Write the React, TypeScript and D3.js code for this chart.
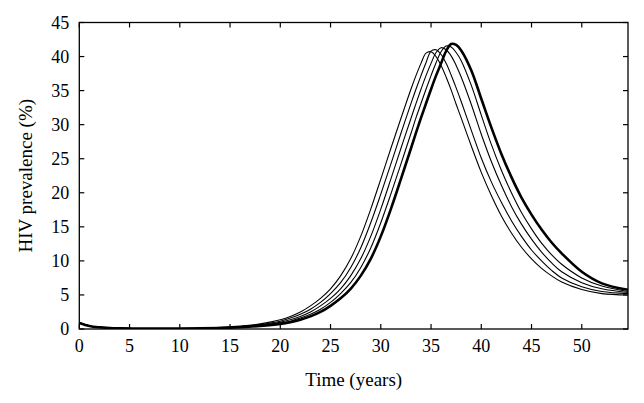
import React from 'react';
import { scaleLinear, line, curveCatmullRom } from 'd3';

// time grid (years)
const years = [0, 1, 2, 3, 4, 6, 8, 10, 12, 14, 16, 18, 20, 21, 22, 23, 24, 25, 26, 27, 28, 29, 30, 31, 32, 33, 33.5, 34, 34.5, 35, 35.5, 36, 36.5, 37, 37.5, 38, 39, 40, 41, 42, 43, 44, 45, 46, 47, 48, 50, 52, 54.6];

// HIV prevalence (%) for the five runs
const run1 = [0.9, 0.45, 0.25, 0.15, 0.1, 0.06, 0.06, 0.08, 0.14, 0.24, 0.42, 0.75, 1.35, 1.85, 2.5, 3.4, 4.5, 5.9, 7.8, 10.3, 13.6, 17.6, 22.0, 26.5, 30.9, 35.2, 37.2, 39.0, 40.5, 40.7, 40.0, 38.7, 37.0, 35.1, 33.0, 31.0, 26.9, 23.0, 19.6, 16.6, 14.1, 12.0, 10.3, 8.9, 7.8, 6.9, 5.8, 5.2, 5.0];
const run2 = [0.9, 0.45, 0.25, 0.15, 0.1, 0.06, 0.06, 0.07, 0.12, 0.21, 0.37, 0.66, 1.15, 1.6, 2.15, 2.9, 3.9, 5.2, 6.8, 9.0, 11.9, 15.6, 19.8, 24.2, 28.7, 33.1, 35.2, 37.2, 39.1, 40.8, 41.0, 40.3, 39.0, 37.3, 35.4, 33.4, 29.2, 25.1, 21.6, 18.6, 15.9, 13.6, 11.6, 10.0, 8.6, 7.5, 6.2, 5.5, 5.2];
const run3 = [0.9, 0.45, 0.25, 0.15, 0.1, 0.06, 0.05, 0.07, 0.11, 0.19, 0.33, 0.58, 1.0, 1.35, 1.85, 2.5, 3.4, 4.5, 5.9, 7.8, 10.3, 13.6, 17.6, 22.0, 26.5, 30.9, 33.1, 35.2, 37.2, 39.0, 40.6, 41.3, 41.0, 40.1, 38.7, 37.0, 33.0, 28.6, 24.6, 21.1, 18.0, 15.4, 13.2, 11.3, 9.7, 8.4, 6.8, 5.9, 5.35];
const run4 = [0.9, 0.45, 0.25, 0.15, 0.1, 0.06, 0.05, 0.06, 0.1, 0.17, 0.29, 0.51, 0.88, 1.15, 1.6, 2.15, 2.9, 3.9, 5.2, 6.8, 9.0, 11.9, 15.6, 19.8, 24.2, 28.7, 31.0, 33.1, 35.2, 37.2, 39.1, 40.7, 41.55, 41.4, 40.6, 39.4, 35.8, 31.4, 27.1, 23.3, 20.0, 17.1, 14.7, 12.6, 10.9, 9.5, 7.5, 6.3, 5.5];
const run5 = [0.9, 0.45, 0.25, 0.15, 0.1, 0.06, 0.05, 0.06, 0.09, 0.15, 0.26, 0.45, 0.75, 1.0, 1.35, 1.85, 2.5, 3.4, 4.5, 5.9, 7.8, 10.3, 13.6, 17.6, 22.0, 26.5, 28.8, 31.0, 33.1, 35.2, 37.2, 39.0, 40.8, 41.85, 41.7, 40.9, 38.0, 33.8, 29.6, 25.7, 22.3, 19.3, 16.8, 14.6, 12.7, 11.1, 8.4, 6.7, 5.75];

const runs = [run1, run2, run3, run4, run5];

const xTicks = [0, 5, 10, 15, 20, 25, 30, 35, 40, 45, 50];
const yTicks = [0, 5, 10, 15, 20, 25, 30, 35, 40, 45];

const App = () => {
    const width = 644;
    const height = 403;
    const left = 79.3, right = 628, top = 22.5, bottom = 329;

    const xScale = scaleLinear().domain([0, 54.6]).range([left, right]);
    const yScale = scaleLinear().domain([0, 45]).range([bottom, top]);

    const path = line<number>()
        .x((d, i) => xScale(years[i]))
        .y(d => yScale(d))
        .curve(curveCatmullRom);

    const font = '"Liberation Serif", "DejaVu Serif", serif';
    const tick = 5;

    return <svg width={width} height={height} viewBox={`0 0 ${width} ${height}`}
        style={{ position: 'absolute', left: 0, top: 0, background: '#fff' }}>
        <defs>
            <clipPath id="plot">
                <rect x={left} y={top - 5} width={right - left} height={bottom - top + 5} />
            </clipPath>
        </defs>
        <g clipPath="url(#plot)">
            {runs.map((r, i) => (
                <path key={i} d={path(r) || ''} fill="none" stroke="#000"
                    strokeWidth={i === 4 ? 2.6 : 1.1} strokeLinejoin="round" />
            ))}
        </g>
        <rect x={left} y={top} width={right - left} height={bottom - top} fill="none" stroke="#000" strokeWidth={1.3} />
        {xTicks.map(t => (
            <g key={'x' + t}>
                <line x1={xScale(t)} x2={xScale(t)} y1={bottom} y2={bottom - tick} stroke="#000" strokeWidth={1.2} />
                <line x1={xScale(t)} x2={xScale(t)} y1={top} y2={top + tick} stroke="#000" strokeWidth={1.2} />
                <text x={xScale(t)} y={bottom + 23} textAnchor="middle" fontFamily={font} fontSize={18}>{t}</text>
            </g>
        ))}
        {yTicks.map(t => (
            <g key={'y' + t}>
                <line x1={left} x2={left + tick} y1={yScale(t)} y2={yScale(t)} stroke="#000" strokeWidth={1.2} />
                <line x1={right} x2={right - tick} y1={yScale(t)} y2={yScale(t)} stroke="#000" strokeWidth={1.2} />
                <text x={left - 10} y={yScale(t) + 6} textAnchor="end" fontFamily={font} fontSize={18}>{t}</text>
            </g>
        ))}
        <text x={(left + right) / 2} y={386} textAnchor="middle" fontFamily={font} fontSize={19}>Time (years)</text>
        <text transform={`translate(32, ${(top + bottom) / 2}) rotate(-90)`} textAnchor="middle" fontFamily={font} fontSize={19}>HIV prevalence (%)</text>
    </svg>
}

export default App;
